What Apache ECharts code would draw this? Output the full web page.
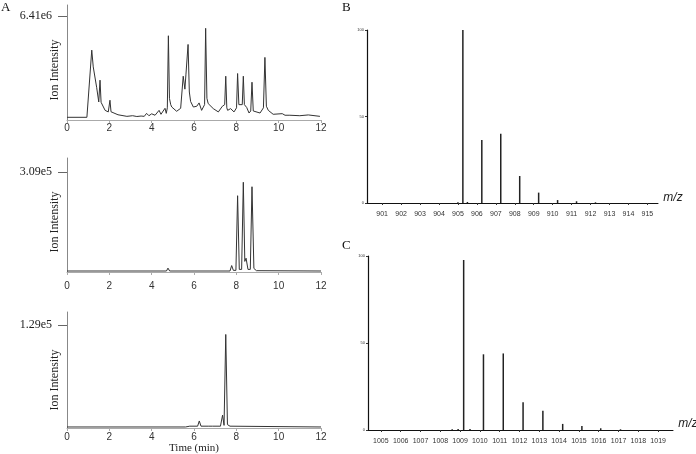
<!DOCTYPE html>
<html>
<head>
<meta charset="utf-8">
<script src="https://cdn.jsdelivr.net/npm/echarts@6/dist/echarts.min.js"></script>
<style>
html,body{margin:0;padding:0;background:#fff;}
#chart{width:696px;height:454px;}
</style>
</head>
<body>
<div id="chart"></div>
<script>
// ---------- Panel A: chromatograms (time in min) ----------
// A1 total ion chromatogram, intensity in units of 1e6
const timeA1 = [0, 0.94, 1.17, 1.24, 1.40, 1.50, 1.56, 1.61, 1.80, 1.95, 1.99, 2.03, 2.08, 2.41, 2.83, 3.10, 3.30, 3.50, 3.65, 3.76, 3.87, 4.00, 4.16, 4.35, 4.44, 4.63, 4.69, 4.74, 4.79, 4.84, 4.90, 4.95, 5.18, 5.37, 5.49, 5.57, 5.62, 5.72, 5.78, 5.84, 5.97, 6.13, 6.24, 6.36, 6.50, 6.55, 6.61, 6.67, 6.91, 7.15, 7.34, 7.45, 7.50, 7.55, 7.59, 7.73, 7.89, 8.01, 8.06, 8.12, 8.20, 8.28, 8.33, 8.38, 8.42, 8.49, 8.60, 8.68, 8.74, 8.80, 8.85, 9.12, 9.28, 9.35, 9.42, 9.51, 9.74, 10.17, 10.30, 10.53, 11.00, 11.40, 11.95];
const intA1 = [0, 0, 4.25, 3.19, 1.90, 0.97, 2.35, 0.95, 0.44, 0.34, 0.45, 1.08, 0.35, 0.16, 0.06, 0.10, 0.05, 0.08, 0.06, 0.25, 0.10, 0.22, 0.13, 0.44, 0.19, 0.57, 0.25, 0.60, 5.16, 1.20, 0.80, 0.65, 0.38, 0.57, 2.60, 1.78, 2.73, 4.61, 1.60, 1.00, 0.65, 0.70, 0.91, 0.44, 0.80, 5.63, 1.20, 0.87, 0.55, 0.34, 0.70, 0.80, 2.60, 0.60, 0.44, 0.55, 0.34, 0.60, 2.77, 0.80, 0.76, 0.80, 2.60, 0.80, 0.70, 0.62, 0.27, 0.40, 2.22, 0.40, 0.34, 0.27, 0.60, 3.79, 0.70, 0.44, 0.19, 0.23, 0.13, 0.13, 0.10, 0.15, 0.06];
// A2 extracted ion chromatogram, intensity in units of 1e5
const timeA2 = [0, 4.70, 4.77, 4.85, 7.70, 7.78, 7.86, 7.98, 8.06, 8.14, 8.25, 8.33, 8.40, 8.46, 8.55, 8.66, 8.74, 8.83, 8.95, 12];
const intA2 = [0, 0, 0.09, 0, 0, 0.17, 0.02, 0.02, 2.35, 0.05, 0.05, 2.77, 0.30, 0.40, 0.05, 0.05, 2.63, 0.08, 0.01, 0];
// A3 extracted ion chromatogram, intensity in units of 1e5
const timeA3 = [0, 5.60, 5.80, 6.00, 6.17, 6.25, 6.33, 6.70, 6.79, 6.88, 7.25, 7.35, 7.42, 7.50, 7.58, 7.70, 12];
const intA3 = [0, 0, 0.01, 0.01, 0.01, 0.076, 0.01, 0.01, 0.025, 0.01, 0.01, 0.15, 0.02, 1.17, 0.03, 0.01, 0];
// y tick value (axis units) and its label for each chromatogram
const yTickValA = [6.41, 3.09, 1.29];
const yTickLabelA = ['6.41e6', '3.09e5', '1.29e5'];
const xTicksA = [0, 2, 4, 6, 8, 10, 12];

// ---------- Panel B / C: mass spectra (relative abundance %) ----------
const mzB = [905.0, 905.26, 905.5, 906.26, 907.26, 908.26, 909.26, 910.26, 911.26, 912.26];
const relB = [0.5, 100, 0.6, 36.4, 40, 15.6, 6, 1.7, 1, 0.4];
const mzTicksB = [901, 902, 903, 904, 905, 906, 907, 908, 909, 910, 911, 912, 913, 914, 915];

const mzC = [1008.6, 1008.9, 1009.18, 1009.5, 1010.18, 1011.18, 1012.18, 1013.18, 1014.18, 1015.15, 1016.1, 1017.1];
const relC = [0.4, 0.6, 97.7, 0.6, 43.5, 44, 16, 11, 3.5, 2.3, 1, 0.4];
const mzTicksC = [1005, 1006, 1007, 1008, 1009, 1010, 1011, 1012, 1013, 1014, 1015, 1016, 1017, 1018, 1019];
const relTicks = [0, 50, 100];

const zip = (a, b) => a.map((v, i) => [v, b[i]]);

const serif = '"Liberation Serif", "Times New Roman", serif';
const sans = '"Liberation Sans", Arial, sans-serif';

const gridsA = [
  {left: 67, top: 5, width: 254, height: 115, min: -0.171, max: 7.106, margin: 3},
  {left: 67, top: 158, width: 254, height: 114, min: -0.031, max: 3.527, margin: 9},
  {left: 67, top: 312, width: 254, height: 116, min: -0.013, max: 1.454, margin: 4}
];

const grid = [];
const xAxis = [];
const yAxis = [];
const series = [];

gridsA.forEach((g, i) => {
  grid.push({left: g.left, top: g.top, width: g.width, height: g.height, containLabel: false, outerBoundsMode: 'none'});
  xAxis.push({
    type: 'value', gridIndex: i, min: 0, max: 12,
    axisLine: {show: true, onZero: false, lineStyle: {color: '#aaa', width: 1}},
    axisTick: {show: true, length: 3, customValues: xTicksA, lineStyle: {color: '#aaa'}},
    axisLabel: {show: true, margin: g.margin, customValues: xTicksA, formatter: v => String(v), fontFamily: sans, fontSize: 10, color: '#333'},
    splitLine: {show: false},
    name: i === 2 ? 'Time (min)' : '',
    nameLocation: 'middle', nameGap: 13,
    nameTextStyle: {fontFamily: serif, fontSize: 11, color: '#222'}
  });
  yAxis.push({
    type: 'value', gridIndex: i, min: g.min, max: g.max,
    axisLine: {show: true, onZero: false, lineStyle: {color: '#888', width: 1}},
    axisTick: {show: true, length: 9, inside: false, customValues: [yTickValA[i]], lineStyle: {color: '#666'}},
    axisLabel: {show: true, margin: 15, customValues: [yTickValA[i]], formatter: () => yTickLabelA[i], fontFamily: serif, fontSize: 12, color: '#222'},
    splitLine: {show: false}
  });
});
series.push({type: 'line', xAxisIndex: 0, yAxisIndex: 0, data: zip(timeA1, intA1), showSymbol: false, lineStyle: {color: '#333', width: 1}, silent: true, animation: false});
series.push({type: 'line', xAxisIndex: 1, yAxisIndex: 1, data: zip(timeA2, intA2), showSymbol: false, lineStyle: {color: '#333', width: 1}, silent: true, animation: false});
series.push({type: 'line', xAxisIndex: 2, yAxisIndex: 2, data: zip(timeA3, intA3), showSymbol: false, lineStyle: {color: '#333', width: 1}, silent: true, animation: false});

// Spectrum grids
const specGrids = [
  {left: 367, top: 30, width: 291, height: 173, min: 900.2, max: 915.56, ticks: mzTicksB, mz: mzB, rel: relB},
  {left: 368, top: 256, width: 305, height: 174, min: 1004.35, max: 1019.75, ticks: mzTicksC, mz: mzC, rel: relC}
];
specGrids.forEach((g, k) => {
  const idx = 3 + k;
  grid.push({left: g.left, top: g.top, width: g.width, height: g.height, containLabel: false, outerBoundsMode: 'none'});
  xAxis.push({
    type: 'value', gridIndex: idx, min: g.min, max: g.max,
    axisLine: {show: true, onZero: false, lineStyle: {color: '#111', width: 1}},
    axisTick: {show: true, length: 2, customValues: g.ticks, lineStyle: {color: '#333'}},
    axisLabel: {show: true, margin: 8, customValues: g.ticks, formatter: v => String(v), fontFamily: sans, fontSize: 7, color: '#333'},
    splitLine: {show: false}
  });
  yAxis.push({
    type: 'value', gridIndex: idx, min: 0, max: 100,
    axisLine: {show: true, onZero: false, lineStyle: {color: '#111', width: 1.2}},
    axisTick: {show: true, length: 2, customValues: relTicks, lineStyle: {color: '#333'}},
    axisLabel: {show: true, margin: 3, customValues: relTicks, formatter: v => String(v), fontFamily: sans, fontSize: 4, color: '#333'},
    splitLine: {show: false}
  });
  series.push({
    type: 'bar', xAxisIndex: idx, yAxisIndex: idx, data: zip(g.mz, g.rel),
    barWidth: 1.5, itemStyle: {color: '#222'}, silent: true, animation: false
  });
});

const graphic = [
  {type: 'text', left: 1, top: 1, style: {text: 'A', font: '13px ' + serif, fill: '#111'}},
  {type: 'text', left: 342, top: 1, style: {text: 'B', font: '13px ' + serif, fill: '#111'}},
  {type: 'text', left: 342, top: 239, style: {text: 'C', font: '13px ' + serif, fill: '#111'}},
  {type: 'text', x: 55, y: 70, rotation: Math.PI / 2, style: {text: 'Ion Intensity', font: '12px ' + serif, fill: '#222', textAlign: 'center', textVerticalAlign: 'middle'}},
  {type: 'text', x: 55, y: 222, rotation: Math.PI / 2, style: {text: 'Ion Intensity', font: '12px ' + serif, fill: '#222', textAlign: 'center', textVerticalAlign: 'middle'}},
  {type: 'text', x: 55, y: 380, rotation: Math.PI / 2, style: {text: 'Ion Intensity', font: '12px ' + serif, fill: '#222', textAlign: 'center', textVerticalAlign: 'middle'}},
  {type: 'text', x: 673, y: 198, style: {text: 'm/z', font: 'italic 12px ' + sans, fill: '#222', textAlign: 'center', textVerticalAlign: 'middle'}},
  {type: 'text', x: 688, y: 424, style: {text: 'm/z', font: 'italic 12px ' + sans, fill: '#222', textAlign: 'center', textVerticalAlign: 'middle'}}
];

const chart = echarts.init(document.getElementById('chart'), null, {renderer: 'canvas'});
chart.setOption({
  animation: false,
  backgroundColor: '#fff',
  grid, xAxis, yAxis, series, graphic
});
</script>
</body>
</html>
